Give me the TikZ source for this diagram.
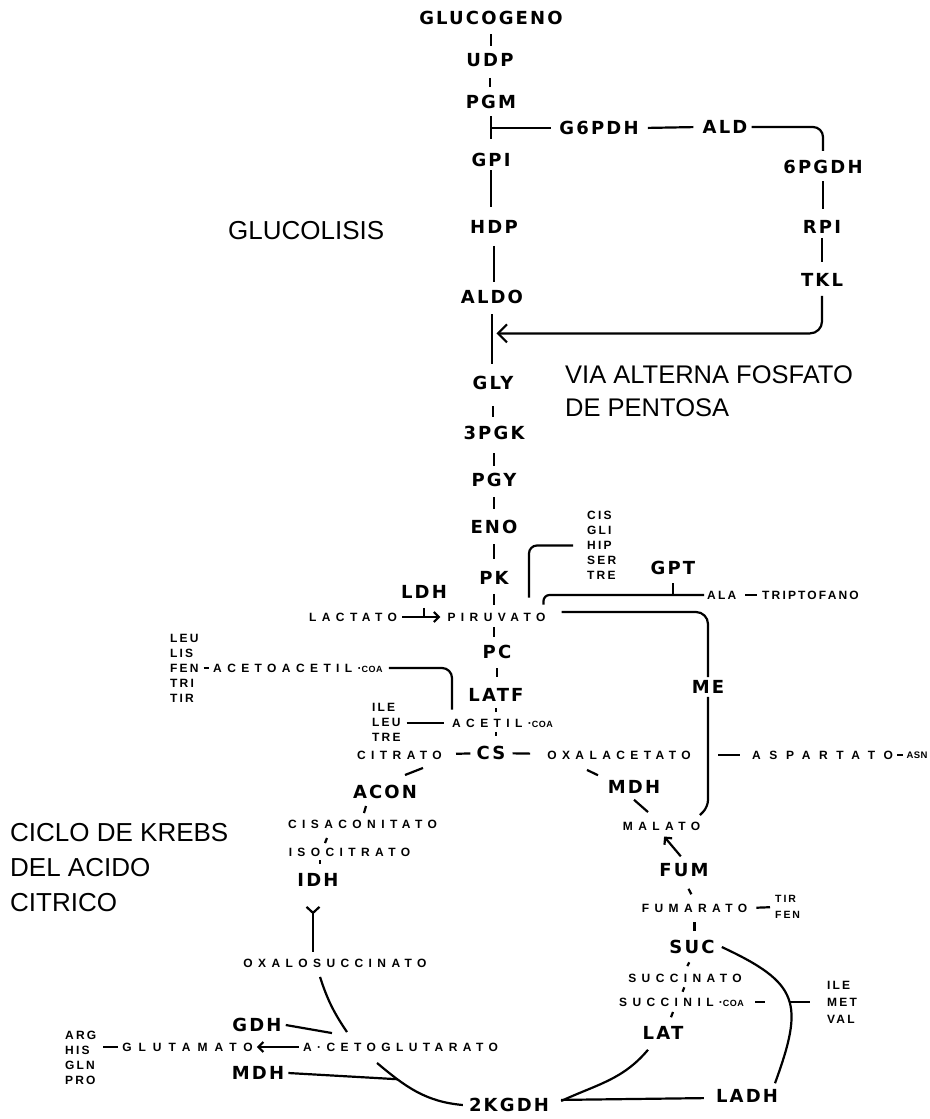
\documentclass[tikz,border=0pt]{standalone}
\usepackage{fontspec}
\setmainfont{Liberation Sans}
\newfontfamily\enzf{DejaVu Sans}[LetterSpace=12]
\newfontfamily\metf{Liberation Sans}[LetterSpace=45]
\newfontfamily\aaf{Liberation Sans}[LetterSpace=18]
\usetikzlibrary{arrows.meta,calc}
\newcommand\coa{{\fontsize{9}{9}\selectfont\addfontfeatures{LetterSpace=5}COA}}
\begin{document}
\begin{tikzpicture}[x=1pt,y=-1pt,
  enz/.style={font=\enzf\bfseries\fontsize{18}{18}\selectfont, inner xsep=4pt, inner ysep=3pt},
  met/.style={font=\metf\bfseries\fontsize{12}{12}\selectfont, inner xsep=2pt, inner ysep=3pt},
  aa/.style={font=\aaf\bfseries\fontsize{12}{15}\selectfont, align=left, inner sep=0pt, anchor=west},
  ttl/.style={font=\fontsize{26}{35}\selectfont, align=left, anchor=west, inner sep=0pt},
  ln/.style={line width=2.2pt},
  barb/.style={-{Straight Barb[length=5pt,width=10pt]}}
]
\fill[white] (0,0) rectangle (929,1119);
\useasboundingbox (0,0) rectangle (929,1119);

% ---- titles
\node[ttl] (glucolisis) at (228,231) {GLUCOLISIS};
\node[ttl,font=\fontsize{25.5}{33}\selectfont] (via) at (565,391.5) {VIA ALTERNA FOSFATO\\DE PENTOSA};
\node[ttl] (krebs) at (10,868) {CICLO DE KREBS\\DEL ACIDO\\CITRICO};

% ---- enzymes
\node[enz] (glucogeno) at (491,18) {GLUCOGENO};
\node[enz] (udp) at (490,60) {UDP};
\node[enz] (pgm) at (491,102) {PGM};
\node[enz] (gpi) at (491,160) {GPI};
\node[enz] (g6pdh) at (599,128) {G6PDH};
\node[enz] (ald) at (725,127) {ALD};
\node[enz] (pgdh) at (823,167) {6PGDH};
\node[enz] (rpi) at (822,227) {RPI};
\node[enz] (tkl) at (822,280) {TKL};
\node[enz] (hdp) at (494,227) {HDP};
\node[enz] (aldo) at (492,297) {ALDO};
\node[enz] (gly) at (493,383) {GLY};
\node[enz] (pgk) at (494,433) {3PGK};
\node[enz] (pgy) at (494,480) {PGY};
\node[enz] (eno) at (494,527) {ENO};
\node[enz] (pk) at (494,578) {PK};
\node[enz] (ldh) at (424,592) {LDH};
\node[enz] (gpt) at (673,568) {GPT};
\node[enz] (pc) at (497,652) {PC};
\node[enz] (latf) at (496,695) {LATF};
\node[enz] (me) at (708,687) {ME};
\node[enz] (cs) at (491,753) {CS};
\node[enz] (acon) at (385,792) {ACON};
\node[enz] (mdhr) at (634,787) {MDH};
\node[enz] (idh) at (318,880) {IDH};
\node[enz] (fum) at (684,870) {FUM};
\node[enz] (suc) at (692,947) {SUC};
\node[enz] (lat) at (663,1033) {LAT};
\node[enz] (ladh) at (747,1096) {LADH};
\node[enz] (kgdh) at (509,1105) {2KGDH};
\node[enz] (gdh) at (257,1025) {GDH};
\node[enz] (mdhl) at (258,1073) {MDH};

% ---- metabolites
\node[met] (lactato) at (353,617) {LACTATO};
\node[met] (piruvato) at (496.5,617) {PIRUVATO};
\node[met,anchor=west] (aceto) at (211,668) {ACETOACETIL·\coa};
\node[met] (acetil) at (502.5,723) {ACETIL·\coa};
\node[met] (citrato) at (399.5,755) {CITRATO};
\node[met] (oxalacetato) at (619,755) {OXALACETATO};
\node[met] (aspartato) at (822.5,755) {\addfontfeatures{LetterSpace=72}ASPARTATO};
\node[met] (asn) at (917,755) {\fontsize{9.5}{9.5}\selectfont\addfontfeatures{LetterSpace=5}ASN};
\node[met] (malato) at (661.5,826) {MALATO};
\node[met] (fumarato) at (694.5,908) {FUMARATO};
\node[met] (succinato) at (685,978) {SUCCINATO};
\node[met] (succinil) at (681.5,1002) {SUCCINIL·\coa};
\node[met] (cisaconitato) at (362.5,824) {CISACONITATO};
\node[met] (isocitrato) at (349.5,852) {ISOCITRATO};
\node[met] (oxalosuccinato) at (335,963) {OXALOSUCCINATO};
\node[met] (acetoglutarato) at (400.5,1047) {A·CETOGLUTARATO};
\node[met] (glutamato) at (187.5,1047) {\addfontfeatures{LetterSpace=58}GLUTAMATO};

% ---- amino acid lists
\node[aa] (leulist) at (170,668) {LEU\\LIS\\FEN\\TRI\\TIR};
\node[aa] (iltlist) at (372,722) {ILE\\LEU\\TRE};
\node[aa] (cislist) at (587,545.5) {CIS\\GLI\\HIP\\SER\\TRE};
\node[aa] (ala) at (707,595) {ALA};
\node[aa] (tripto) at (762,595) {TRIPTOFANO};
\node[aa] (arglist) at (65,1057.5) {ARG\\HIS\\GLN\\PRO};
\node[aa,font=\aaf\bfseries\fontsize{10.5}{16}\selectfont] (tirfen) at (775,907) {TIR\\FEN};
\node[aa,font=\aaf\bfseries\fontsize{12}{17}\selectfont] (imvlist) at (827,1002) {ILE\\MET\\VAL};

% ---- glycolysis chain
\draw[ln, shorten <=6pt, shorten >=4pt] (glucogeno.south) -- (glucogeno.south |- udp.north);
\draw[ln, shorten <=8pt, shorten >=5pt] (udp.south) -- (udp.south |- pgm.north);
\draw[ln, shorten <=4pt, shorten >=11pt] (pgm.south) -- (pgm.south |- gpi.north);
\coordinate (br) at (pgm.south |- g6pdh.west);
\draw[ln, shorten >=4pt] (br) -- (g6pdh.west);
\draw[ln, shorten <=5pt, shorten >=5pt] (g6pdh.east) -- (ald.west);
\draw[ln, rounded corners=10, shorten >=6pt] (ald.east) -| (pgdh.north);
\draw[ln, shorten <=4pt, shorten >=8pt] (pgdh.south) -- (pgdh.south |- rpi.north);
\draw[ln, shorten <=1pt, shorten >=8pt] (rpi.south) -- (rpi.south |- tkl.north);
\coordinate (ret) at ($(aldo.south)!0.4!(gly.north)$);
\draw[ln, rounded corners=12, shorten <=6pt, shorten >=4pt, -{Straight Barb[length=9pt,width=18pt]}] (tkl.south) |- (ret);
\draw[ln, shorten >=10pt] (gpi.south) -- (gpi.south |- hdp.north);
\draw[ln, shorten <=9pt, shorten >=5pt] (hdp.south) -- (hdp.south |- aldo.north);
\draw[ln, shorten <=7pt, shorten >=9pt] (aldo.south) -- (aldo.south |- gly.north);
\draw[ln, shorten <=13pt, shorten >=6pt] (gly.south) -- (gly.south |- pgk.north);
\draw[ln, shorten <=10pt, shorten >=4pt] (pgk.south) -- (pgk.south |- pgy.north);
\draw[ln, shorten <=7pt, shorten >=8pt] (pgy.south) -- (pgy.south |- eno.north);
\draw[ln, shorten <=7pt, shorten >=9pt] (eno.south) -- (eno.south |- pk.north);
\draw[ln, shorten <=6pt, shorten >=5pt] (pk.south) -- (pk.south |- piruvato.north);
\draw[ln, shorten <=3pt, shorten >=5pt] (pk.south |- piruvato.south) -- (pk.south |- pc.north);
\draw[ln, shorten <=6pt, shorten >=8pt] (pc.south) -- (pc.south |- latf.north);
\draw[ln, shorten <=3pt, shorten >=4pt] (latf.south) -- (latf.south |- acetil.north);
\draw[ln, shorten <=2pt, shorten >=7pt] (latf.south |- acetil.south) -- (latf.south |- cs.north);

% ---- pyruvate region
\draw[ln, shorten <=6pt] (ldh.south) -- (ldh.south |- lactato.east);
\draw[ln, barb, shorten <=3pt, shorten >=5pt] (lactato) -- (piruvato);
\draw[ln, rounded corners=8, shorten >=12pt] ([xshift=-14pt]cislist.west) -| ([xshift=32.5pt]piruvato.north);
\draw[ln, rounded corners=6, shorten <=5pt, shorten >=3pt] ([xshift=47pt]piruvato.north) |- (ala.west);
\draw[ln, shorten <=5pt] (gpt.south) -- (gpt.south |- ala.west);
\draw[ln, shorten <=9pt, shorten >=5pt] (ala.east) -- (tripto.west);
\draw[ln, rounded corners=12, shorten <=14pt] ([yshift=5pt]piruvato.east) -| (me.north);
\coordinate (mecorner) at (700,815);
\draw[ln, rounded corners=7] (me.south) -- ([yshift=8pt]me.south |- mecorner) -- (mecorner);
\draw[ln, shorten <=10pt, shorten >=10pt] (me.south |- aspartato.west) -- (aspartato.west);
\draw[ln, shorten <=2pt, shorten >=1pt] (aspartato.east) -- (asn.west);
\draw[ln, shorten <=5pt, shorten >=2pt] (leulist.east |- aceto.west) -- (aceto.west);
\draw[ln, rounded corners=10, shorten <=4pt, shorten >=6pt] (aceto.east) -| ([xshift=-50.5pt]acetil.north);
\draw[ln, shorten <=6pt, shorten >=6pt] (iltlist.east |- acetil.west) -- (acetil.west);

% ---- citric acid cycle
\draw[ln, shorten <=3pt, shorten >=15pt] (cs) -- (oxalacetato);
\draw[ln, shorten <=12pt, shorten >=2pt] (citrato) -- (cs);
\draw[ln] ([xshift=23.5pt,yshift=-5.5pt]citrato.south) -- ([xshift=20pt,yshift=7pt]acon.north);
\draw[ln] ([xshift=-19pt,yshift=-4pt]acon.south) -- ([xshift=1.5pt,yshift=3.5pt]cisaconitato.north);
\draw[ln] ([xshift=-35.5pt,yshift=-6.5pt]cisaconitato.south) -- ([xshift=-24.5pt,yshift=1.5pt]isocitrato.north);
\draw[ln] ([xshift=-29.5pt,yshift=-1pt]isocitrato.south) -- ([xshift=2pt,yshift=6pt]idh.north);
\draw[ln, {Straight Barb[reversed,length=6pt,width=13pt]}-, shorten <=16pt, shorten >=4pt] ([xshift=-5pt]idh.south) -- ([xshift=-5pt]idh.south |- oxalosuccinato.north);
\draw[ln] ([xshift=-15pt,yshift=-6.5pt]oxalosuccinato.south) to[bend right=8] ([xshift=-53.5pt,yshift=7.5pt]acetoglutarato.north);
\draw[ln] (gdh.east) -- ([xshift=-68.5pt,yshift=6.5pt]acetoglutarato.north);
\draw[ln, barb, shorten <=2pt, shorten >=2pt] (acetoglutarato) -- (glutamato);
\draw[ln, shorten <=7pt, shorten >=2pt] (arglist.east |- glutamato.west) -- (glutamato.west);
\draw[ln] ([xshift=-23.5pt,yshift=-8.5pt]acetoglutarato.south) to[out=-40, in=175] coordinate[pos=0.25] (kjoin) ([xshift=-2pt]kgdh.west);
\draw[ln] (mdhl.east) -- (kjoin);
\draw[ln] ([xshift=-15pt,yshift=-7pt]lat.south) to[out=-130, in=25] ([xshift=8pt,yshift=4pt]kgdh.east);
\draw[ln, shorten <=8pt, shorten >=8pt] ([yshift=5pt]kgdh.east) -- ([yshift=-2pt]ladh.west);
\draw[ln] ([xshift=3pt]suc.east) to[out=-25, in=70, looseness=1.5] ([xshift=28pt,yshift=3pt]ladh.north);
\draw[ln, shorten <=9pt, shorten >=15pt, dash pattern=on 10pt off 25pt on 20pt] (succinil.east) -- (imvlist.west);
\draw[ln, shorten <=7pt, shorten >=5pt] (fumarato.east) -- (tirfen.west);
\draw[ln, barb, shorten <=5pt, shorten >=4pt] (fum.north) -- (malato.south);
\draw[ln, shorten <=10pt, shorten >=7pt] (fum.south) -- (fumarato.north);
\draw[ln, shorten <=7pt, shorten >=6pt] (fumarato.south) -- (fumarato.south |- suc.north);
\draw[ln, shorten <=6pt, shorten >=5pt] (suc.south) -- (succinato.north);
\draw[ln, shorten <=2pt, shorten >=3pt] (succinato.south) -- (succinil.north);
\draw[ln] ([xshift=-8.5pt,yshift=-2.5pt]succinil.south) -- ([xshift=8pt,yshift=6pt]lat.north);
\draw[ln] ([xshift=-32pt,yshift=-7.5pt]oxalacetato.south) -- ([xshift=-36pt,yshift=2pt]mdhr.north);
\draw[ln] ([yshift=-3pt]mdhr.south) -- ([xshift=-13.5pt,yshift=6.5pt]malato.north);
\end{tikzpicture}
\end{document}
